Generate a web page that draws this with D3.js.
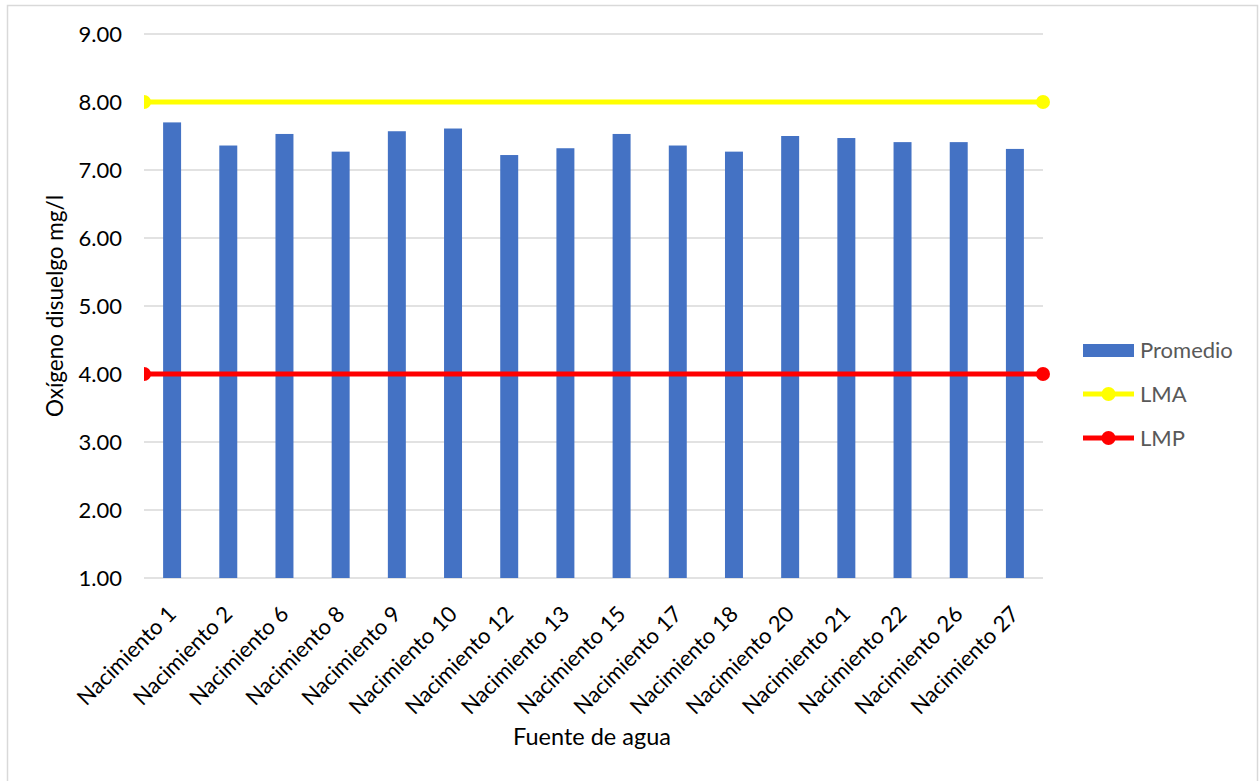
<!DOCTYPE html>
<html>
<head>
<meta charset="utf-8">
<script src="https://cdn.jsdelivr.net/npm/d3@7"></script>
<style>
  body { margin: 0; background: #fff; }
  #chart { width: 1259px; height: 781px; }
  text { font-family: Lato, "Open Sans", sans-serif; }
</style>
</head>
<body>
<div id="chart"></div>
<script>
// Chart data
const categories = ["Nacimiento 1", "Nacimiento 2", "Nacimiento 6", "Nacimiento 8", "Nacimiento 9",
                    "Nacimiento 10", "Nacimiento 12", "Nacimiento 13", "Nacimiento 15", "Nacimiento 17",
                    "Nacimiento 18", "Nacimiento 20", "Nacimiento 21", "Nacimiento 22", "Nacimiento 26",
                    "Nacimiento 27"];
const promedio = [7.70, 7.36, 7.53, 7.27, 7.57, 7.61, 7.22, 7.32, 7.53, 7.36, 7.27, 7.50, 7.47, 7.41, 7.41, 7.31];
const lma = [8, 8];
const lmp = [4, 4];
const yTicks = [1, 2, 3, 4, 5, 6, 7, 8, 9];

const width = 1259, height = 781;
const margin = { top: 34, right: 216, bottom: 203, left: 144 };
const innerW = width - margin.left - margin.right;
const innerH = height - margin.top - margin.bottom;

const svg = d3.select("#chart").append("svg")
              .attr("width", width)
              .attr("height", height);

// chart area border
svg.append("rect")
   .attr("x", 7.5).attr("y", 5.5)
   .attr("width", 1250).attr("height", 790)
   .attr("fill", "none")
   .attr("stroke", "#d9d9d9")
   .attr("stroke-width", 1.5);

const g = svg.append("g").attr("transform", `translate(${margin.left},${margin.top})`);

// clip for line series (the left marker is cut in half)
svg.append("defs").append("clipPath").attr("id", "plotClip")
   .append("rect").attr("x", 0).attr("y", -20).attr("width", innerW + 20).attr("height", innerH + 40);

// scales
const x = d3.scaleBand().domain(categories).range([0, innerW]).paddingInner(0.68).paddingOuter(0.34);
const y = d3.scaleLinear().domain([1, 9]).range([innerH, 0]);
const xLine = d3.scaleLinear().domain([0, 1]).range([0, innerW]);

// gridlines
g.selectAll("line.grid")
 .data(yTicks)
 .join("line")
 .attr("class", "grid")
 .attr("x1", 0).attr("x2", innerW)
 .attr("y1", d => y(d)).attr("y2", d => y(d))
 .attr("stroke", "#d9d9d9")
 .attr("stroke-width", 1.3);

// y labels
g.selectAll("text.ytick")
 .data(yTicks)
 .join("text")
 .attr("class", "ytick")
 .attr("x", -22)
 .attr("y", d => y(d))
 .attr("dy", "0.35em")
 .attr("text-anchor", "end")
 .attr("font-size", 22)
 .attr("fill", "#000")
 .text(d => d3.format(".2f")(d));

// bars
g.selectAll("rect.bar")
 .data(promedio)
 .join("rect")
 .attr("class", "bar")
 .attr("x", (d, i) => x(categories[i]))
 .attr("width", x.bandwidth())
 .attr("y", d => y(d))
 .attr("height", d => y(1) - y(d))
 .attr("fill", "#4472c4");

// x labels
g.selectAll("text.xtick")
 .data(categories)
 .join("text")
 .attr("class", "xtick")
 .attr("transform", d => `translate(${x(d) + x.bandwidth() / 2},${innerH + 32}) rotate(-45)`)
 .attr("text-anchor", "end")
 .attr("dy", "0.35em")
 .attr("font-size", 22)
 .attr("fill", "#000")
 .text(d => d);

// line series
const lineLayer = g.append("g").attr("clip-path", "url(#plotClip)");
const series = [ { values: lma, color: "#ffff00" }, { values: lmp, color: "#ff0000" } ];
const lineGen = d3.line().x((d, i) => xLine(i)).y(d => y(d));

series.forEach(s => {
    lineLayer.append("path")
             .datum(s.values)
             .attr("d", lineGen)
             .attr("fill", "none")
             .attr("stroke", s.color)
             .attr("stroke-width", 5);
    lineLayer.selectAll(null)
             .data(s.values)
             .join("circle")
             .attr("cx", (d, i) => xLine(i))
             .attr("cy", d => y(d))
             .attr("r", 7)
             .attr("fill", s.color);
});

// axis titles
svg.append("text")
   .attr("transform", `translate(63,${margin.top + innerH / 2}) rotate(-90)`)
   .attr("text-anchor", "middle")
   .attr("font-size", 22.5)
   .attr("fill", "#000")
   .text("Oxígeno disuelgo mg/l");

svg.append("text")
   .attr("x", 592)
   .attr("y", 745)
   .attr("text-anchor", "middle")
   .attr("font-size", 23.5)
   .attr("fill", "#000")
   .text("Fuente de agua");

// legend
const legend = svg.append("g").attr("transform", "translate(1083,0)");
legend.append("rect")
      .attr("x", 0).attr("y", 344)
      .attr("width", 51).attr("height", 13)
      .attr("fill", "#4472c4");
legend.append("text").attr("x", 57).attr("y", 350).attr("dy", "0.35em")
      .attr("font-size", 22).attr("fill", "#595959").text("Promedio");

[ { label: "LMA", color: "#ffff00", yy: 394 }, { label: "LMP", color: "#ff0000", yy: 438 } ].forEach(l => {
    legend.append("line")
          .attr("x1", 0).attr("x2", 51)
          .attr("y1", l.yy).attr("y2", l.yy)
          .attr("stroke", l.color).attr("stroke-width", 5);
    legend.append("circle").attr("cx", 25.5).attr("cy", l.yy).attr("r", 7).attr("fill", l.color);
    legend.append("text").attr("x", 57).attr("y", l.yy).attr("dy", "0.35em")
          .attr("font-size", 22).attr("fill", "#595959").text(l.label);
});
</script>
</body>
</html>
